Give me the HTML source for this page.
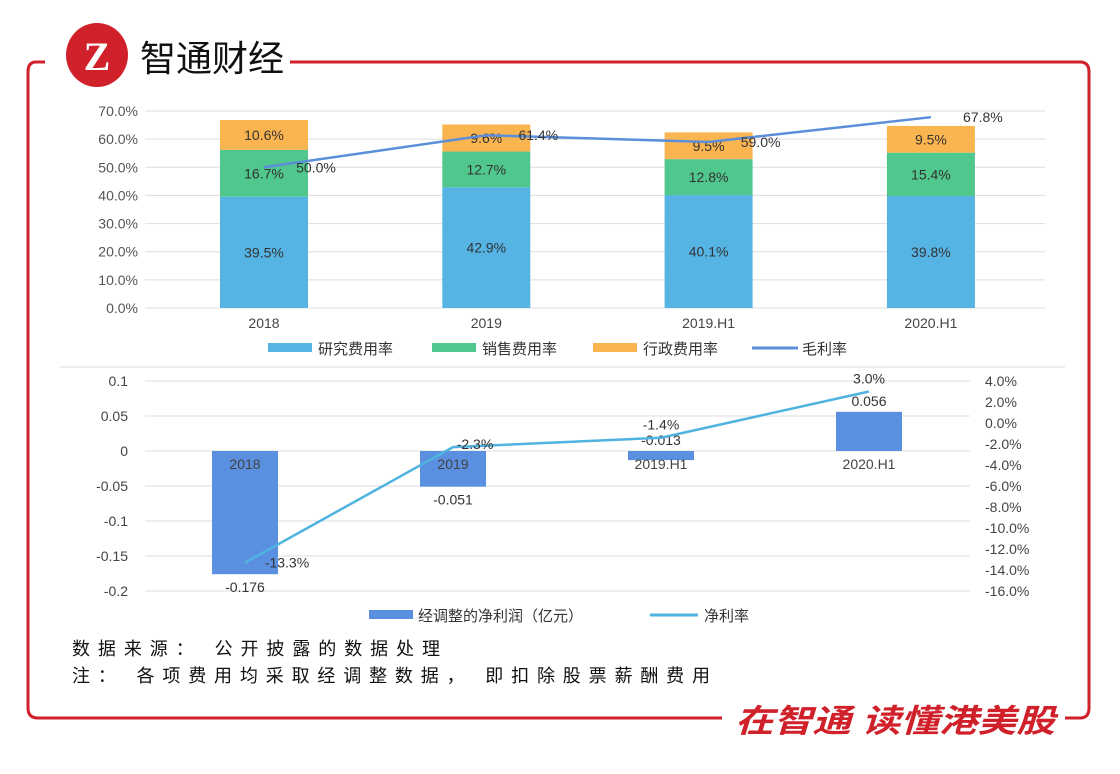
<!DOCTYPE html>
<html><head><meta charset="utf-8"><style>
body{margin:0;background:#fff;width:1120px;height:769px;overflow:hidden;font-family:"Liberation Sans","Noto Sans CJK SC",sans-serif}
</style></head><body>
<svg width="1120" height="769" xmlns="http://www.w3.org/2000/svg" font-family="Liberation Sans, Noto Sans CJK SC, sans-serif">
<g fill="none" stroke="#d0202a" stroke-width="3">
<path d="M45,62 L36,62 Q28,62 28,72 L28,708 Q28,718 38,718 L722,718"/>
<path d="M290,62 L1080,62 Q1089,62 1089,72 L1089,708 Q1089,718 1080,718 L1065,718"/>
</g>
<g>
<ellipse cx="97" cy="55" rx="31" ry="32" fill="#d0202a"/>
<text x="97" y="70" text-anchor="middle" font-size="40" font-weight="bold" fill="#fff" font-family="Liberation Serif, serif">Z</text>
<text x="140" y="71" font-size="36" fill="#111">智通财经</text>
</g>
<text x="735" y="732" textLength="320" lengthAdjust="spacingAndGlyphs" font-size="32" font-weight="bold" fill="#d0202a" font-style="italic">在智通  读懂港美股</text>
<line x1="60" y1="367" x2="1065" y2="367" stroke="#ddd"/>
<g id="top"></g>
<g id="bot"></g>
<text x="72" y="655" font-size="18" textLength="368" fill="#111">数据来源：  公开披露的数据处理</text>
<text x="72" y="682" font-size="18" textLength="638" fill="#111">注：  各项费用均采取经调整数据，  即扣除股票薪酬费用</text>
</svg>
<script>
const cats=["2018","2019","2019.H1","2020.H1"];
const rd=[39.5,42.9,40.1,39.8];
const sales=[16.7,12.7,12.8,15.4];
const admin=[10.6,9.6,9.5,9.5];
const gross=[50.0,61.4,59.0,67.8];
const topTicks=[0,10,20,30,40,50,60,70];
const profit=[-0.176,-0.051,-0.013,0.056];
const netMargin=[-13.3,-2.3,-1.4,3.0];
const leftTicks=[0.1,0.05,0,-0.05,-0.1,-0.15,-0.2];
const rightTicks=[4,2,0,-2,-4,-6,-8,-10,-12,-14,-16];
const NS="http://www.w3.org/2000/svg";
function mk(p,t,a,txt){const e=document.createElementNS(NS,t);for(const k in a)e.setAttribute(k,a[k]);if(txt!==undefined)e.textContent=txt;p.appendChild(e);return e;}
const T=document.getElementById('top');
const ty=v=>308-v*(197/70);
const tx=i=>264+i*222.3;
topTicks.forEach(v=>{
 const g=mk(T,'line',{x1:145,x2:1045,y1:ty(v),y2:ty(v),stroke:'#ddd'});
 
 const t=mk(T,'text',{x:138,y:ty(v)+5,'text-anchor':'end','font-size':14,fill:'#555'},v.toFixed(1)+'%');
 
});
const series=[[rd,'#56b4e5'],[sales,'#50c78c'],[admin,'#fbb550']];
cats.forEach((c,i)=>{
 let base=0;
 series.forEach(([arr,col])=>{
  const v=arr[i];
  const r=mk(T,'rect',{x:tx(i)-44,y:ty(base+v),width:88,height:ty(base)-ty(base+v),fill:col});
  
  const l=mk(T,'text',{x:tx(i),y:(ty(base)+ty(base+v))/2+5,'text-anchor':'middle','font-size':14,fill:'#333'},v.toFixed(1)+'%');
  
  base+=v;
 });
 const xl=mk(T,'text',{x:tx(i),y:328,'text-anchor':'middle','font-size':14,fill:'#444'},c);
 
});
const gl=mk(T,'polyline',{points:gross.map((v,i)=>tx(i)+','+ty(v)).join(' '),fill:'none',stroke:'#5b8fd9','stroke-width':2.5});

gross.forEach((v,i)=>{
 const l=mk(T,'text',{x:tx(i)+52,y:ty(v)+5,'text-anchor':'middle','font-size':14,fill:'#333'},v.toFixed(1)+'%');
 
});
[['研究费用率','#56b4e5',268],['销售费用率','#50c78c',432],['行政费用率','#fbb550',593]].forEach(([n,c,x])=>{
 const r=mk(T,'rect',{x:x,y:343,width:44,height:9,fill:c});
 const t=mk(T,'text',{x:x+50,y:354,'font-size':15,fill:'#333'},n);
});
const ll=mk(T,'line',{x1:752,x2:798,y1:348,y2:348,stroke:'#5b8fd9','stroke-width':3});
const lt=mk(T,'text',{x:802,y:354,'font-size':15,fill:'#333'},'毛利率');
const B=document.getElementById('bot');
const by=v=>451-v*(35/0.05);
const ry=v=>423-v*(10.5);
const bx=i=>245+i*208;
leftTicks.forEach(v=>{
 const g=mk(B,'line',{x1:145,x2:970,y1:by(v),y2:by(v),stroke:'#ddd'});
 const t=mk(B,'text',{x:128,y:by(v)+5,'text-anchor':'end','font-size':14,fill:'#444'},String(v));
});
rightTicks.forEach(v=>{
 const t=mk(B,'text',{x:985,y:ry(v)+5,'font-size':14,fill:'#444'},v.toFixed(1)+'%');
});
profit.forEach((v,i)=>{
 const y0=Math.min(by(0),by(v)),h=Math.abs(by(v)-by(0));
 const r=mk(B,'rect',{x:bx(i)-33,y:y0,width:66,height:h,fill:'#5b90e0'});
 const ly=(v<-0.03)?by(v)+18:Math.min(by(v),by(0))-6;
 const l=mk(B,'text',{x:bx(i),y:ly,'text-anchor':'middle','font-size':14,fill:'#333'},v.toFixed(3));
 const xl=mk(B,'text',{x:bx(i),y:469,'text-anchor':'middle','font-size':14,fill:'#444'},cats[i]);
});
const nl=mk(B,'polyline',{points:netMargin.map((v,i)=>bx(i)+','+ry(v)).join(' '),fill:'none',stroke:'#4fb3e0','stroke-width':2.5});

netMargin.forEach((v,i)=>{
 const dx=i==0?42:(i==1?22:0);const dy=i==0?5:(i==1?2:-8);
 const l=mk(B,'text',{x:bx(i)+dx,y:ry(v)+dy,'text-anchor':'middle','font-size':14,fill:'#333'},v.toFixed(1)+'%');
});
const br=mk(B,'rect',{x:369,y:610,width:44,height:9,fill:'#5b90e0'});
const bt=mk(B,'text',{x:418,y:621,'font-size':15,fill:'#333'},'经调整的净利润（亿元）');
const bl=mk(B,'line',{x1:650,x2:698,y1:615,y2:615,stroke:'#4fb3e0','stroke-width':3});
const bt2=mk(B,'text',{x:704,y:621,'font-size':15,fill:'#333'},'净利率');
</script>
</body></html>
